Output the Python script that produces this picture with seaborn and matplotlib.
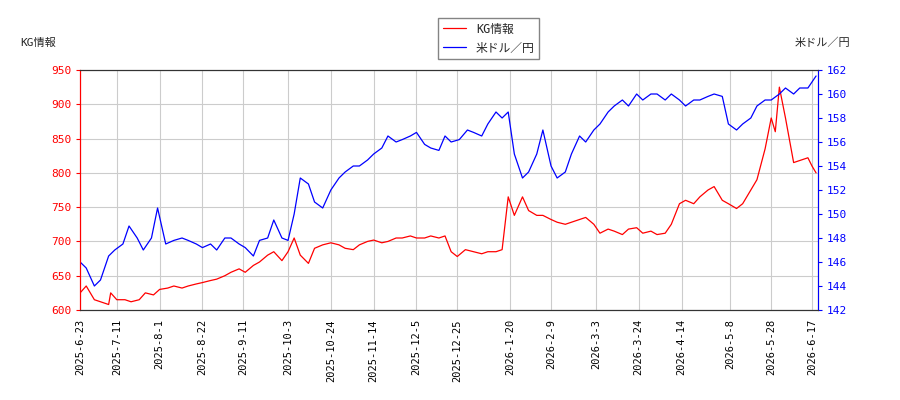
import matplotlib
matplotlib.use("Agg")
import matplotlib.pyplot as plt
import seaborn as sns
import pandas as pd

kg_dates = ["2025-06-23","2025-06-26","2025-06-30","2025-07-03","2025-07-07","2025-07-08","2025-07-11","2025-07-15","2025-07-18","2025-07-22","2025-07-25","2025-07-29","2025-08-01","2025-08-05","2025-08-08","2025-08-12","2025-08-15","2025-08-19","2025-08-22","2025-08-26","2025-08-29","2025-09-02","2025-09-05","2025-09-09","2025-09-12","2025-09-16","2025-09-19","2025-09-23","2025-09-26","2025-09-30","2025-10-03","2025-10-06","2025-10-09","2025-10-13","2025-10-16","2025-10-20","2025-10-24","2025-10-28","2025-10-31","2025-11-04","2025-11-07","2025-11-11","2025-11-14","2025-11-18","2025-11-21","2025-11-25","2025-11-28","2025-12-02","2025-12-05","2025-12-09","2025-12-12","2025-12-16","2025-12-19","2025-12-22","2025-12-25","2025-12-29","2026-01-02","2026-01-06","2026-01-09","2026-01-13","2026-01-16","2026-01-19","2026-01-22","2026-01-26","2026-01-29","2026-02-02","2026-02-05","2026-02-09","2026-02-12","2026-02-16","2026-02-19","2026-02-23","2026-02-26","2026-03-02","2026-03-05","2026-03-09","2026-03-12","2026-03-16","2026-03-19","2026-03-23","2026-03-26","2026-03-30","2026-04-02","2026-04-06","2026-04-09","2026-04-13","2026-04-16","2026-04-20","2026-04-23","2026-04-27","2026-04-30","2026-05-04","2026-05-07","2026-05-11","2026-05-14","2026-05-18","2026-05-21","2026-05-25","2026-05-28","2026-05-30","2026-06-01","2026-06-04","2026-06-08","2026-06-11","2026-06-15","2026-06-17","2026-06-19"]
kg_values = [625,635,615,612,608,625,615,615,612,615,625,622,630,632,635,632,635,638,640,643,645,650,655,660,655,665,670,680,685,672,685,705,680,668,690,695,698,695,690,688,695,700,702,698,700,705,705,708,705,705,708,705,708,685,678,688,685,682,685,685,688,765,738,765,745,738,738,732,728,725,728,732,735,725,712,718,715,710,718,720,712,715,710,712,725,755,760,755,765,775,780,760,755,748,755,775,790,835,880,860,925,880,815,818,822,810,800]

usd_dates = ["2025-06-23","2025-06-26","2025-06-30","2025-07-03","2025-07-07","2025-07-10","2025-07-14","2025-07-17","2025-07-21","2025-07-24","2025-07-28","2025-07-31","2025-08-04","2025-08-08","2025-08-12","2025-08-15","2025-08-19","2025-08-22","2025-08-26","2025-08-29","2025-09-02","2025-09-05","2025-09-09","2025-09-12","2025-09-16","2025-09-19","2025-09-23","2025-09-26","2025-09-30","2025-10-03","2025-10-06","2025-10-09","2025-10-13","2025-10-16","2025-10-20","2025-10-24","2025-10-28","2025-10-31","2025-11-04","2025-11-07","2025-11-11","2025-11-14","2025-11-18","2025-11-21","2025-11-25","2025-11-28","2025-12-02","2025-12-05","2025-12-09","2025-12-12","2025-12-16","2025-12-19","2025-12-22","2025-12-26","2025-12-30","2026-01-02","2026-01-06","2026-01-09","2026-01-13","2026-01-16","2026-01-19","2026-01-22","2026-01-26","2026-01-29","2026-02-02","2026-02-05","2026-02-09","2026-02-12","2026-02-16","2026-02-19","2026-02-23","2026-02-26","2026-03-02","2026-03-05","2026-03-09","2026-03-12","2026-03-16","2026-03-19","2026-03-23","2026-03-26","2026-03-30","2026-04-02","2026-04-06","2026-04-09","2026-04-13","2026-04-16","2026-04-20","2026-04-23","2026-04-27","2026-04-30","2026-05-04","2026-05-07","2026-05-11","2026-05-14","2026-05-18","2026-05-21","2026-05-25","2026-05-28","2026-06-01","2026-06-04","2026-06-08","2026-06-11","2026-06-15","2026-06-19"]
usd_values = [146,145.5,144,144.5,146.5,147,147.5,149,148,147,148,150.5,147.5,147.8,148,147.8,147.5,147.2,147.5,147,148,148,147.5,147.2,146.5,147.8,148,149.5,148,147.8,150,153,152.5,151,150.5,152,153,153.5,154,154,154.5,155,155.5,156.5,156,156.2,156.5,156.8,155.8,155.5,155.3,156.5,156,156.2,157,156.8,156.5,157.5,158.5,158,158.5,155,153,153.5,155,157,154,153,153.5,155,156.5,156,157,157.5,158.5,159,159.5,159,160,159.5,160,160,159.5,160,159.5,159,159.5,159.5,159.8,160,159.8,157.5,157,157.5,158,159,159.5,159.5,160,160.5,160,160.5,160.5,161.5]

tick_labels = ["2025-6-23","2025-7-11","2025-8-1","2025-8-22","2025-9-11","2025-10-3","2025-10-24","2025-11-14","2025-12-5","2025-12-25","2026-1-20","2026-2-9","2026-3-3","2026-3-24","2026-4-14","2026-5-8","2026-5-28","2026-6-17"]

kg = pd.DataFrame({"date": pd.to_datetime(kg_dates), "v": kg_values})
usd = pd.DataFrame({"date": pd.to_datetime(usd_dates), "v": usd_values})

sns.set_style("white")
plt.rcParams['font.family'] = ['DejaVu Sans Mono', 'Noto Sans CJK JP']
fig = plt.figure(figsize=(9, 4), dpi=100)
ax = fig.add_axes([0.089, 0.225, 0.82, 0.6])
ax2 = ax.twinx()
sns.lineplot(data=kg, x="date", y="v", ax=ax, color="red", lw=0.9, label="KG情報", legend=False)
sns.lineplot(data=usd, x="date", y="v", ax=ax2, color="blue", lw=0.9, label="米ドル／円", legend=False)

ax.set_ylim(600, 950)
ax.set_yticks(range(600, 951, 50))
ax2.set_ylim(142, 162)
ax2.set_yticks(range(142, 163, 2))
ticks = pd.to_datetime(tick_labels)
ax.set_xticks(ticks)
ax.set_xticklabels(tick_labels, rotation=90, fontsize=7.5)
ax.set_xlim(pd.Timestamp("2025-06-23"), pd.Timestamp("2026-06-20"))
ax.grid(True, color="#cccccc", lw=0.8)
ax.set_xlabel(""); ax.set_ylabel(""); ax2.set_ylabel("")
for a in (ax, ax2):
    a.tick_params(axis="y", labelsize=8, length=3, direction="out")
    for s in a.spines.values():
        s.set_color("#333333")
ax.tick_params(axis="x", length=3, colors="black")
ax.tick_params(axis="y", colors="red", labelcolor="red")
ax2.tick_params(axis="y", colors="blue", labelcolor="blue")
ax.spines["left"].set_color("red")
ax2.spines["left"].set_color("red")
ax2.spines["right"].set_color("blue")

fig.text(0.022, 0.885, "KG情報", fontsize=8)
fig.text(0.945, 0.885, "米ドル／円", fontsize=8, ha="right")
h1, l1 = ax.get_legend_handles_labels()
h2, l2 = ax2.get_legend_handles_labels()
fig.legend(h1 + h2, l1 + l2, loc="upper center", bbox_to_anchor=(0.543, 0.97),
           fontsize=8.5, frameon=True, fancybox=False, edgecolor="#666666")
fig.savefig("out.png", dpi=100)
